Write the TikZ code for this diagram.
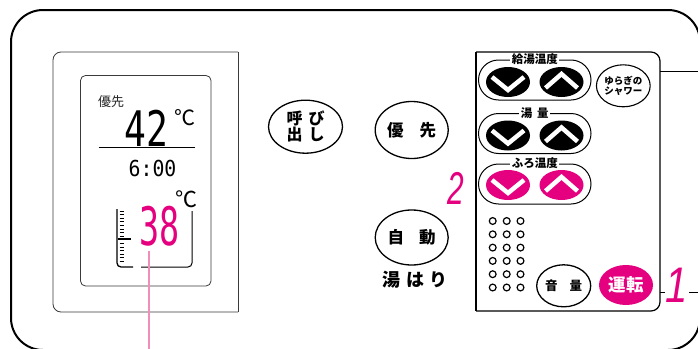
\documentclass[tikz,border=0pt]{standalone}
\usepackage{fontspec}
\usetikzlibrary{shapes.geometric}
\newfontfamily\jp{Noto Sans CJK JP}
\newfontfamily\mono{DejaVu Sans Mono}
\newfontfamily\lib{Liberation Sans}
\newcommand\fsz[1]{\fontsize{#1}{#1}\selectfont}
\definecolor{mag}{HTML}{E5007F}
\definecolor{lpink}{HTML}{F08DB8}
\definecolor{frame}{HTML}{3A3A3A}
\newcommand\arrowpair[3]{%
  \node[arrowbtn, fill=#3] (#1d) at (508,#2) {};
  \node[arrowbtn, fill=#3] (#1u) at (561.5,#2) {};
  \draw[chev] ([shift={(-16,-5)}]#1d.center) -- ([shift={(0,8)}]#1d.center) -- ([shift={(16,-5)}]#1d.center);
  \draw[chev] ([shift={(-16,6)}]#1u.center) -- ([shift={(0,-8)}]#1u.center) -- ([shift={(16,6)}]#1u.center);
}
\begin{document}
\begin{tikzpicture}[x=1pt,y=-1pt,
  btn/.style={ellipse, draw, line width=1.3pt, inner sep=0pt, font=\jp\bfseries, text=black},
  pill/.style={rectangle, draw, line width=1pt, rounded corners=20pt, minimum width=112.5pt, minimum height=40pt, inner sep=0pt},
  plabel/.style={fill=white, inner sep=1.5pt, font=\jp\bfseries\fsz{11.5}},
  arrowbtn/.style={ellipse, minimum width=44pt, minimum height=30pt, inner sep=0pt},
  chev/.style={white, line width=4.5pt, line join=miter, line cap=butt},
  bignum/.style={inner sep=0pt, text=mag, font=\lib\itshape\fsz{46}},
  thinframe/.style={draw=frame, line width=0.8pt},
]
\useasboundingbox (0,0) rectangle (698,348);
\clip (0,0) rectangle (698,348);
\fill[white] (0,0) rectangle (698,348);

% outer casing
\draw[line width=2pt, rounded corners=32pt] (11,10) rectangle (700,350);

% display frame
\draw[thinframe, rounded corners=8pt] (238,52) -- (53,52) -- (53,312) -- (238,312);
\draw[thinframe] (238,52) -- (238,312);
% LCD
\draw[thinframe, rounded corners=5pt] (80.5,75.5) rectangle (211,286);

% LCD content
\node[inner sep=0pt, font=\jp\fsz{13}, text=black!85] (lcdyusen) at (111,101.5) {優先};
\node[inner sep=0pt, font=\mono\fsz{49}, xscale=0.74] (n42) at (146.7,128.3) {42};
\node[inner sep=0pt, font=\jp\fsz{21}] (deg1) at (185,117.5) {℃};
\draw[line width=0.9pt] (98.5,147.5) -- (194.5,147.5);
\node[inner sep=0pt, font=\mono\fsz{22}, xscale=0.9] (time) at (152.5,168.5) {6:00};
\node[inner sep=0pt, font=\jp\fsz{22}] (deg2) at (186.5,199.5) {℃};
\node[inner sep=0pt, font=\mono\fsz{53}, xscale=0.63, text=mag] (n38) at (159.5,226) {38};
% bar graph
\draw[line width=1.3pt, rounded corners=4pt] (117,209) -- (117,267) -- (133,267);
\draw[line width=1pt, rounded corners=4pt] (141,267) -- (192,267) -- (192,211);
\foreach \i in {0,...,14} \draw[line width=1pt] (119.5,211+\i*3.6) -- (124,211+\i*3.6);
\draw[line width=1.6pt] (118,239) -- (131,239);
% pink leader
\coordinate (plend) at (149,350);
\draw[lpink, line width=1.4pt] (n38.south -| plend) ++(0,5) -- (plend);

% centre buttons
\node[btn, minimum width=74pt, minimum height=53pt, font=\jp\bfseries\fsz{16}, align=center] (yobi) at (305.5,126.7) {\fontsize{16}{20}\selectfont 呼\hspace{6pt}び\\出\hspace{6pt}し};
\node[btn, minimum width=73pt, minimum height=57pt, font=\jp\bfseries\fsz{16.5}] (yusen) at (411.7,130) {優\hspace{16pt}先};
\node[btn, minimum width=73pt, minimum height=55pt, font=\jp\bfseries\fsz{16.5}] (jido) at (411.7,237.5) {自\hspace{15pt}動};
\node[inner sep=0pt, font=\jp\bfseries\fsz{18}] (yuhari) at (415,280) {湯\hspace{6pt}は\hspace{6pt}り};

% number 2
\node[bignum, xscale=0.65] (two) at (456,188) {2};

% right panel
\draw[line width=1.2pt, rounded corners=9pt] (476,52) -- (660,52) -- (660,311) -- (476,311);
\draw[line width=1.2pt] (476,52) -- (476,311);
\coordinate (p1) at (660,71);
\coordinate (e1) at (700,71);
\draw[line width=1pt] (p1) -- (e1);
\coordinate (p2) at (660,292);
\coordinate (e2) at (700,292);
\draw[line width=1pt] (p2) -- (e2);

% pills
\node[pill] (pill1) at (534.75,80) {};
\node[pill] (pill2) at (534.75,133.5) {};
\node[pill] (pill3) at (534.75,184) {};
\node[plabel] (lab1) at (pill1.north) {給湯温度};
\node[plabel] (lab2) at (pill2.north) {湯\hspace{5pt}量};
\node[plabel] (lab3) at (pill3.north) {ふろ温度};
\arrowpair{a}{82}{black}
\arrowpair{b}{135.5}{black}
\arrowpair{c}{185}{mag}

% yuragi shower
\node[btn, line width=1.1pt, minimum width=50pt, minimum height=42pt, align=center, font=\jp\bfseries\fsz{9.5}] (yuragi) at (623.3,85.8) {\fontsize{9.5}{12}\selectfont ゆらぎの\\シャワー};

% dots
\foreach \cx in {492.7,506.7,520.5}
  \foreach \cy in {221,234.3,247.6,260.9,274.2,287.5}
    \draw[line width=1.2pt] (\cx,\cy) circle (3.4);

% bottom buttons
\node[btn, minimum width=54pt, minimum height=42pt, font=\jp\bfseries\fsz{12.5}] (onryo) at (563.7,285.8) {音\hspace{12pt}量};
\node[ellipse, fill=mag, inner sep=0pt, minimum width=54pt, minimum height=40pt, text=white, font=\jp\bfseries\fsz{17.5}] (unten) at (626,285) {運転};

% number 1
\node[inner sep=1.5pt, fill=white, text=mag, font=\lib\itshape\fsz{50}, xscale=0.8] (one) at (677,285) {1};
\end{tikzpicture}
\end{document}
